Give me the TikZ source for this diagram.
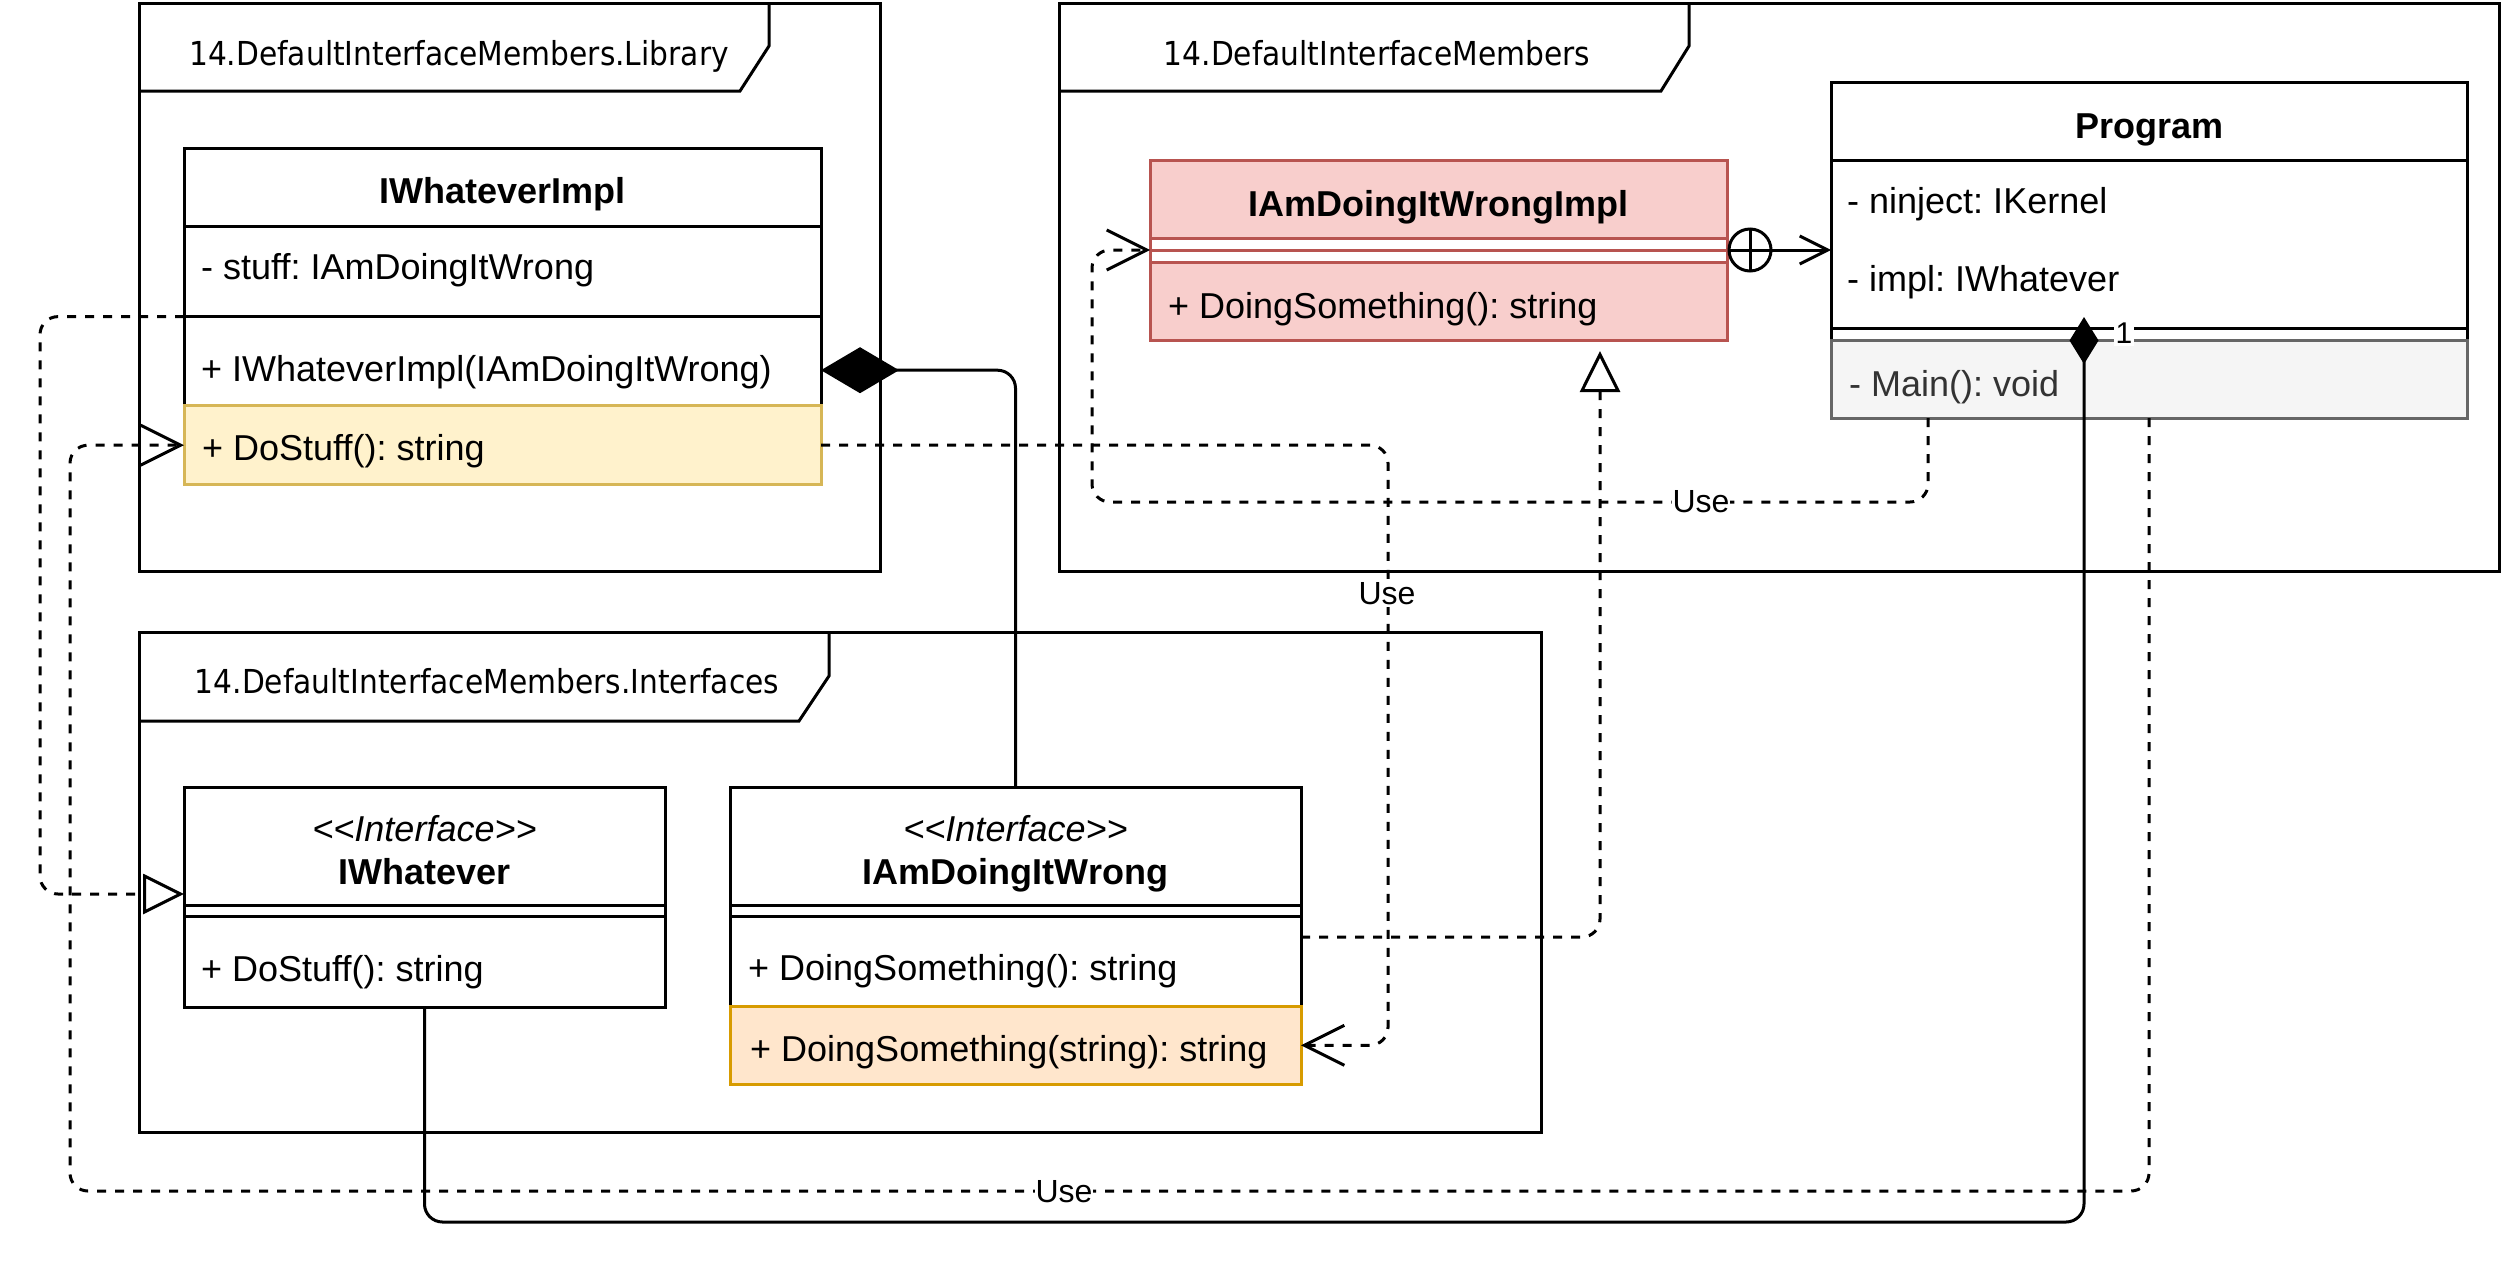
\documentclass[tikz,border=0pt]{standalone}
\usepackage{fontspec}
\setmainfont{Liberation Sans}[Ligatures=TeXOff]
\newfontfamily\framefont{DejaVu Sans}[FakeStretch=0.9]
\usetikzlibrary{arrows.meta}

\definecolor{implfill}{HTML}{F8CECC}
\definecolor{impldraw}{HTML}{B85450}
\definecolor{yelfill}{HTML}{FFF2CC}
\definecolor{yeldraw}{HTML}{D6B656}
\definecolor{orfill}{HTML}{FFE6CC}
\definecolor{ordraw}{HTML}{D79B00}
\definecolor{gryfill}{HTML}{F5F5F5}
\definecolor{grydraw}{HTML}{666666}
\definecolor{grytext}{HTML}{333333}

\tikzset{
  pkg/.style={draw=black, line width=3pt, line join=miter},
  pkglabel/.style={font=\framefont\fontsize{33}{40}\selectfont, inner sep=0pt, anchor=base},
  part/.style={draw=black, fill=white, line width=3pt, anchor=north west, inner sep=0pt, outer sep=0pt},
  redpart/.style={part, draw=impldraw, fill=implfill},
  member/.style={font=\fontsize{36}{43}\selectfont, inner sep=0pt, anchor=base west},
  cname/.style={font=\fontsize{36}{43}\selectfont\bfseries, inner sep=0pt, anchor=base},
  stereo/.style={font=\fontsize{36}{43}\selectfont\itshape, inner sep=0pt, anchor=base},
  wire/.style={line width=3pt, rounded corners=18pt},
  dep/.style={wire, dash pattern=on 9pt off 9pt},
  usearrow/.style={dep, -{Straight Barb[length=40pt,width=40pt]}},
  realize/.style={dep, -{Triangle[open,length=41pt,width=40pt]}},
  compose/.style={wire, -{Diamond[length=78pt,width=46pt]}},
  composesmall/.style={wire, -{Diamond[length=47pt,width=29pt]}},
  nestarrow/.style={wire, -{Straight Barb[length=28pt,width=28pt]}},
  edgelabel/.style={font=\fontsize{32}{38}\selectfont, fill=white, inner xsep=1pt, inner ysep=2pt},
}

\begin{document}
\frenchspacing
\begin{tikzpicture}[x=1pt,y=-1pt]
\fill[white] (0,0) rectangle (2502,1272);
\useasboundingbox (0,0) rectangle (2502,1272);

% ---------- package frames ----------
\draw[pkg] (139,3) rectangle (880,571);
\draw[pkg] (139,91) -- (740,91) -- (769,46) -- (769,3);
\node[pkglabel] (lib-name) at (459,65) {14.DefaultInterfaceMembers.Library};

\draw[pkg] (1059,3) rectangle (2499,571);
\draw[pkg] (1059,91) -- (1661,91) -- (1689,46) -- (1689,3);
\node[pkglabel] (main-name) at (1377,65) {14.DefaultInterfaceMembers};

\draw[pkg] (139,632) rectangle (1541,1132);
\draw[pkg] (139,721) -- (799,721) -- (829,676) -- (829,632);
\node[pkglabel] (ifc-name) at (487,693) {14.DefaultInterfaceMembers.Interfaces};

% ---------- IWhateverImpl ----------
\node[part, minimum width=637pt, minimum height=336.6pt] (impl) at (184,148) {};
\node[part, minimum width=637pt, minimum height=78pt] (implhead) at (184,148) {};
\node[part, minimum width=637pt, minimum height=90.6pt] (implattr) at (184,226) {};
\node[part, minimum width=637pt, minimum height=89.2pt] (implctor) at (184,316.6) {};
\node[part, draw=yeldraw, fill=yelfill, minimum width=637pt, minimum height=78.8pt] (impldo) at (184,405.8) {};
\node[cname] (impl-t) at (502.5,203.5) {IWhateverImpl};
\node[member] (impl-a) at (201,279) {- stuff: IAmDoingItWrong};
\node[member] (impl-c) at (201,381) {+ IWhateverImpl(IAmDoingItWrong)};
\node[member] (impl-m) at (202,460.5) {+ DoStuff(): string};

% ---------- IWhatever ----------
\node[part, minimum width=481pt, minimum height=220pt] (iwh) at (184,787) {};
\node[part, minimum width=481pt, minimum height=118pt] (iwhhead) at (184,787) {};
\node[part, minimum width=481pt, minimum height=11pt] (iwhsep) at (184,905) {};
\node[part, minimum width=481pt, minimum height=91pt] (iwhm) at (184,916) {};
\node[stereo] (iwh-s) at (424.5,841) {<<Interface>>};
\node[cname] (iwh-t) at (424.5,884) {IWhatever};
\node[member] (iwh-m) at (201,981) {+ DoStuff(): string};

% ---------- IAmDoingItWrong ----------
\node[part, minimum width=571pt, minimum height=297.5pt] (adw) at (730,787) {};
\node[part, minimum width=571pt, minimum height=118pt] (adwhead) at (730,787) {};
\node[part, minimum width=571pt, minimum height=11pt] (adwsep) at (730,905) {};
\node[part, minimum width=571pt, minimum height=90pt] (adwm) at (730,916) {};
\node[part, draw=ordraw, fill=orfill, minimum width=571pt, minimum height=78.5pt] (adwds) at (730,1006) {};
\node[stereo] (adw-s) at (1015.5,841) {<<Interface>>};
\node[cname] (adw-t) at (1015.5,884) {IAmDoingItWrong};
\node[member] (adw-m) at (748,980) {+ DoingSomething(): string};
\node[member] (adw-d) at (750,1061) {+ DoingSomething(string): string};

% ---------- IAmDoingItWrongImpl ----------
\node[redpart, minimum width=577pt, minimum height=180pt] (aimpl) at (1150,160) {};
\node[redpart, minimum width=577pt, minimum height=78pt] (aimplhead) at (1150,160) {};
\node[redpart, fill=white, minimum width=577pt, minimum height=12pt] (aimplsep) at (1150,238) {};
\node[redpart, fill=white, minimum width=577pt, minimum height=12pt] (aimplsepb) at (1150,250) {};
\node[redpart, minimum width=577pt, minimum height=78pt] (aimplm) at (1150,262) {};
\node[cname] (aimpl-t) at (1438.5,216) {IAmDoingItWrongImpl};
\node[member] (aimpl-m) at (1168,318) {+ DoingSomething(): string};

% ---------- Program ----------
\node[part, minimum width=636pt, minimum height=336pt] (prog) at (1831,82) {};
\node[part, minimum width=636pt, minimum height=78pt] (proghead) at (1831,82) {};
\node[part, minimum width=636pt, minimum height=168pt] (progattr) at (1831,160) {};
\node[part, draw=grydraw, fill=gryfill, minimum width=636pt, minimum height=78pt] (progmain) at (1831,340) {};
\node[cname] (prog-t) at (2149,138) {Program};
\node[member] (prog-a) at (1847,213) {- ninject: IKernel};
\node[member] (prog-b) at (1847,291) {- impl: IWhatever};
\node[member, text=grytext] (prog-m) at (1849,396) {- Main(): void};

% ---------- relations ----------
% IWhateverImpl realizes IWhatever
\coordinate (r1) at (40,316.6);
\draw[realize] (implattr.south west) -- (r1) |- ([yshift=3pt]iwh.west);

% Program uses IWhateverImpl.DoStuff
\coordinate (u1) at (70,1191);
\draw[usearrow] (prog.south) |- (u1) |- (impldo.west);
\node[edgelabel] (u1-lbl) at (1064,1192) {Use};

% DoStuff uses DoingSomething(string)
\coordinate (u2) at (1388,445.2);
\draw[usearrow] (impldo.east) -- (u2) |- (adwds.east);
\node[edgelabel] (u2-lbl) at (1387,594) {Use};

% Program uses IAmDoingItWrongImpl
\coordinate (u3) at (1092,502);
\draw[usearrow] ([xshift=-221pt]prog.south) |- (u3) |- (aimpl.west);
\node[edgelabel] (u3-lbl) at (1701,502) {Use};

% IAmDoingItWrongImpl realizes IAmDoingItWrong
\draw[realize] ([yshift=-21pt]adwm.north east) -| ([xshift=161.5pt,yshift=-11pt]aimpl.south);

% IWhateverImpl owns an IAmDoingItWrong
\draw[compose] (adw.north) |- ([yshift=-9pt]implctor.east);

% Program owns one IWhatever
\coordinate (c2) at (2084,1222);
\draw[composesmall] (iwh.south) |- (c2) -- ([xshift=-65pt,yshift=101pt]prog.south);
\node[font=\fontsize{30}{36}\selectfont, fill=white, inner xsep=2pt, inner ysep=3pt] (mult) at (2124,333) {1};

% IAmDoingItWrongImpl nested in Program
\node[draw, circle, line width=3pt, minimum size=42pt, inner sep=0pt, outer sep=0pt, anchor=west] (nest) at ([xshift=2pt]aimpl.east) {};
\draw[line width=3pt] (nest.north) -- (nest.south) (nest.west) -- (nest.east);
\draw[nestarrow] (nest.east) -- (prog.west);
\end{tikzpicture}
\end{document}
